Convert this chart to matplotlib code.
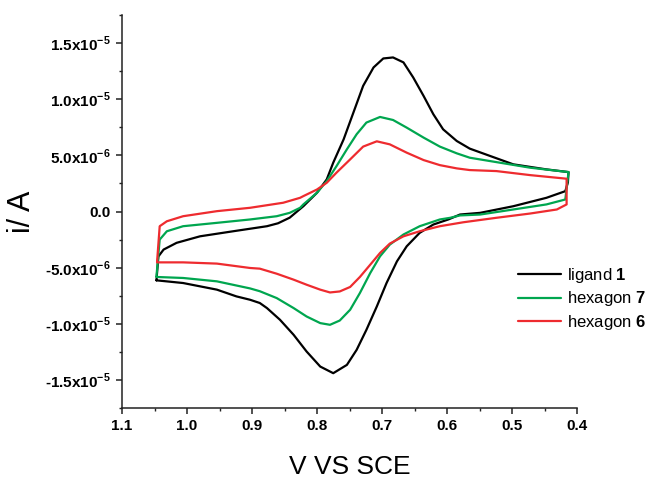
import matplotlib
matplotlib.use("Agg")
import matplotlib.pyplot as plt
from matplotlib.ticker import MultipleLocator, FixedLocator, FixedFormatter

plt.rcParams['font.family'] = ['Liberation Sans', 'DejaVu Sans']
plt.rcParams['mathtext.fontset'] = 'custom'
plt.rcParams['mathtext.rm'] = 'Liberation Sans'
plt.rcParams['mathtext.bf'] = 'Liberation Sans:bold'

# ---- data (potential in V, current in 1e-6 A), each a closed CV loop ----
black_v = [1.047, 1.044, 1.036, 1.016, 0.980, 0.929, 0.877, 0.860, 0.842, 0.821, 0.800, 0.785, 0.775,
           0.759, 0.744, 0.729, 0.713, 0.698, 0.683, 0.667, 0.652, 0.636, 0.621, 0.606, 0.585,
           0.565, 0.498, 0.447, 0.413, 0.414,
           0.418, 0.447, 0.498, 0.549, 0.580, 0.598, 0.621, 0.642, 0.662, 0.677, 0.693, 0.708,
           0.724, 0.739, 0.754, 0.775, 0.795, 0.816, 0.836, 0.857, 0.877, 0.888, 0.903, 0.924,
           0.954, 1.006, 1.047]
black_i = [-6.13, -4.00, -3.39, -2.79, -2.21, -1.76, -1.31, -1.05, -0.55, 0.47, 1.67, 2.86, 4.35,
           6.43, 8.81, 11.19, 12.83, 13.63, 13.72, 13.28, 11.94, 10.29, 8.66, 7.32, 6.28,
           5.60, 4.20, 3.75, 3.51, 2.59,
           1.81, 1.22, 0.47, -0.12, -0.27, -0.71, -1.16, -1.90, -3.10, -4.44, -6.37, -8.46,
           -10.54, -12.32, -13.66, -14.40, -13.81, -12.47, -10.98, -9.64, -8.60, -8.15, -7.86, -7.56,
           -6.96, -6.37, -6.13]

green_v = [1.047, 1.042, 1.031, 1.006, 0.954, 0.903, 0.862, 0.842, 0.826, 0.821, 0.800, 0.785,
           0.770, 0.754, 0.739, 0.724, 0.703, 0.683, 0.662, 0.636, 0.611, 0.585, 0.565, 0.472,
           0.413,
           0.418, 0.447, 0.498, 0.549, 0.580, 0.595, 0.611, 0.642, 0.667, 0.688, 0.703, 0.718,
           0.734, 0.749, 0.765, 0.780, 0.795, 0.816, 0.836, 0.862, 0.888, 0.903, 0.954, 1.006,
           1.047]
green_i = [-5.78, -2.50, -1.76, -1.31, -1.01, -0.71, -0.42, -0.12, 0.33, 0.63, 1.67, 2.71,
           4.04, 5.54, 6.88, 7.92, 8.42, 8.15, 7.47, 6.58, 5.78, 5.18, 4.79, 3.90,
           3.51,
           1.07, 0.63, 0.18, -0.27, -0.35, -0.56, -0.71, -1.31, -2.05, -2.95, -3.99, -5.47,
           -7.26, -8.75, -9.71, -10.09, -9.94, -9.35, -8.60, -7.71, -7.10, -6.85, -6.22, -5.92,
           -5.83]

red_v = [1.046, 1.042, 1.031, 1.006, 0.954, 0.903, 0.852, 0.826, 0.821, 0.800, 0.785, 0.770,
         0.749, 0.729, 0.708, 0.688, 0.662, 0.636, 0.611, 0.585, 0.565, 0.524, 0.472, 0.416,
         0.416,
         0.431, 0.472, 0.524, 0.575, 0.611, 0.642, 0.667, 0.688, 0.703, 0.718, 0.734, 0.749,
         0.765, 0.780, 0.795, 0.816, 0.836, 0.862, 0.888, 0.903, 0.954, 1.006, 1.046]
red_i = [-4.44, -1.31, -0.87, -0.42, 0.03, 0.33, 0.78, 1.22, 1.37, 1.96, 2.56, 3.46,
         4.64, 5.78, 6.25, 5.98, 5.24, 4.58, 4.13, 3.84, 3.69, 3.60, 3.24, 2.92,
         0.63,
         0.18, -0.18, -0.56, -0.96, -1.31, -1.76, -2.21, -2.86, -3.69, -4.73, -5.83, -6.72,
         -7.12, -7.21, -6.96, -6.52, -6.07, -5.54, -5.09, -5.03, -4.64, -4.53, -4.53]

labels = ['ligand $\\mathbf{1}$', 'hexagon $\\mathbf{7}$', 'hexagon $\\mathbf{6}$']
colors = ['#000000', '#00a64f', '#ee2b2f']

x_ticks = [1.1, 1.0, 0.9, 0.8, 0.7, 0.6, 0.5, 0.4]
y_ticks = [-1.5e-5, -1.0e-5, -5.0e-6, 0.0, 5.0e-6, 1.0e-5, 1.5e-5]
y_ticklabels = ['-1.5x10$^{\\mathbf{-5}}$', '-1.0x10$^{\\mathbf{-5}}$', '-5.0x10$^{\\mathbf{-6}}$',
                '0.0', '5.0x10$^{\\mathbf{-6}}$', '1.0x10$^{\\mathbf{-5}}$', '1.5x10$^{\\mathbf{-5}}$']

fig = plt.figure(figsize=(6.52, 4.79), dpi=100)
ax = fig.add_axes([122/652, 1-408/479, (577-122)/652, (408-15)/479])

for v, i, c, lab in zip([black_v, green_v, red_v], [black_i, green_i, red_i], colors, labels):
    ax.plot(v, [k*1e-6 for k in i], color=c, lw=1.6, label=lab,
            solid_joinstyle='round', solid_capstyle='round')

ax.set_xlim(1.1, 0.4)
ax.set_ylim(-1.75e-5, 1.75e-5)
ax.xaxis.set_major_locator(FixedLocator(x_ticks))
ax.xaxis.set_major_formatter(FixedFormatter([f'{t:.1f}' for t in x_ticks]))
ax.xaxis.set_minor_locator(MultipleLocator(0.05))
ax.yaxis.set_major_locator(FixedLocator(y_ticks))
ax.yaxis.set_major_formatter(FixedFormatter(y_ticklabels))
ax.yaxis.set_minor_locator(MultipleLocator(2.5e-6))

for s in ['top', 'right']:
    ax.spines[s].set_visible(False)
for s in ['left', 'bottom']:
    ax.spines[s].set_linewidth(1.1)
    ax.spines[s].set_color('#222222')
ax.tick_params(which='major', direction='out', length=4, width=1.1, color='#222222', labelsize=11, pad=4)
ax.tick_params(which='minor', direction='out', length=2.5, width=1.0, color='#222222')
for t in ax.get_xticklabels() + ax.get_yticklabels():
    t.set_fontweight('bold')

ax.set_xlabel('V VS SCE', fontsize=19, labelpad=16)
ax.set_ylabel('i/ A', fontsize=22, labelpad=6)

ax.legend(loc='upper left', bbox_to_anchor=(518/652, 1-266/479), bbox_transform=fig.transFigure,
          frameon=False, fontsize=12, handlelength=2.6, handletextpad=0.35, labelspacing=0.27,
          borderpad=0, borderaxespad=0)

fig.savefig('out.png', dpi=100)
